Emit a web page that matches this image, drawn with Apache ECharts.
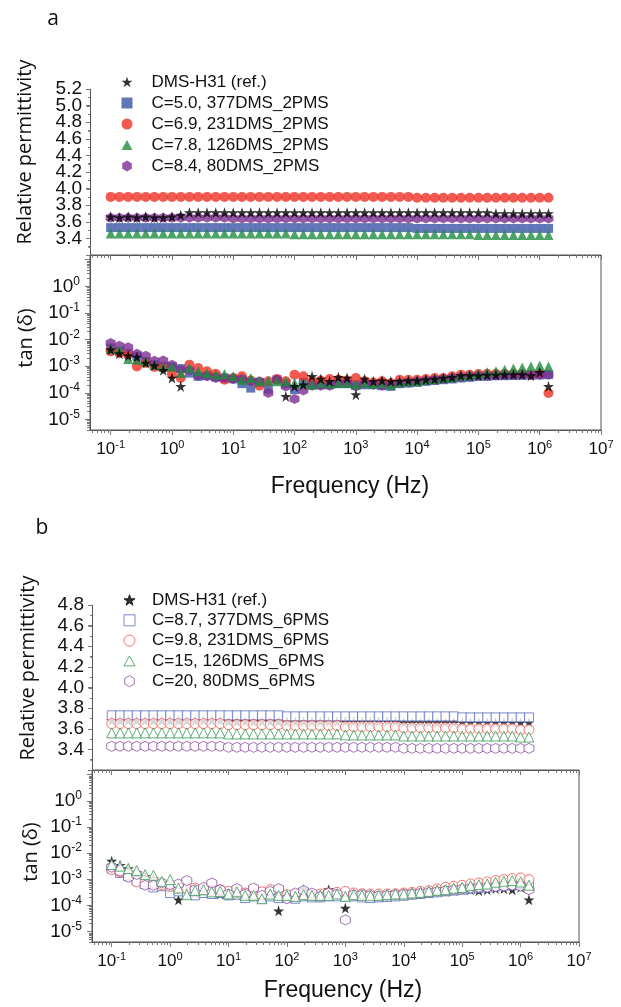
<!DOCTYPE html>
<html><head><meta charset="utf-8">
<script src="https://cdn.jsdelivr.net/npm/echarts@6/dist/echarts.min.js"></script>
<style>html,body{margin:0;padding:0;background:#fff}#c{width:621px;height:1007px;background:#fff}</style>
</head><body><div id="c"></div><script>
// ---------------- data ----------------
const freqHz = [
  0.1, 0.139, 0.193, 0.268, 0.373, 0.518, 0.72,
  1, 1.39, 1.93, 2.68, 3.73, 5.18, 7.2,
  10, 13.9, 19.3, 26.8, 37.3, 51.8, 72,
  100, 139, 193, 268, 373, 518, 720,
  1000, 1390, 1930, 2680, 3730, 5180, 7200,
  10000, 13900, 19300, 26800, 37300, 51800, 72000,
  100000, 139000, 193000, 268000, 373000, 518000, 720000,
  1000000, 1390000
];
const namesA = ['DMS-H31 (ref.)', 'C=5.0, 377DMS_2PMS', 'C=6.9, 231DMS_2PMS', 'C=7.8, 126DMS_2PMS', 'C=8.4, 80DMS_2PMS'];
const namesB = ['DMS-H31 (ref.)', 'C=8.7, 377DMS_6PMS', 'C=9.8, 231DMS_6PMS', 'C=15, 126DMS_6PMS', 'C=20, 80DMS_6PMS'];

const xTickValues = [0.1, 1, 10, 100, 1000, 10000, 100000, 1000000, 10000000];
const tanTickValues = [1e-5, 1e-4, 1e-3, 1e-2, 1e-1, 1, 10];
const tanLabelValues = [1e-5, 1e-4, 1e-3, 1e-2, 1e-1, 1];
const epsTicksA = [3.2, 3.4, 3.6, 3.8, 4.0, 4.2, 4.4, 4.6, 4.8, 5.0, 5.2];
const epsLabelsA = [3.4, 3.6, 3.8, 4.0, 4.2, 4.4, 4.6, 4.8, 5.0, 5.2];
const epsTicksB = [3.2, 3.4, 3.6, 3.8, 4.0, 4.2, 4.4, 4.6, 4.8];
const epsLabelsB = [3.4, 3.6, 3.8, 4.0, 4.2, 4.4, 4.6, 4.8];

// panel a : relative permittivity
const epsRefA = [
  3.66,3.65,3.66,3.65,3.66,3.65,3.65,
  3.66,3.68,3.71,3.71,3.71,3.71,3.71,
  3.71,3.71,3.71,3.71,3.71,3.71,3.71,
  3.71,3.71,3.71,3.71,3.71,3.71,3.71,
  3.71,3.71,3.71,3.71,3.71,3.71,3.71,
  3.71,3.71,3.71,3.71,3.71,3.71,3.71,
  3.71,3.71,3.70,3.70,3.70,3.70,3.70,
  3.70,3.70];
const epsBlueA = [
  3.53,3.53,3.53,3.53,3.53,3.53,3.53,
  3.53,3.53,3.53,3.53,3.53,3.53,3.53,
  3.53,3.53,3.53,3.53,3.53,3.53,3.53,
  3.53,3.53,3.53,3.53,3.53,3.53,3.53,
  3.53,3.53,3.53,3.53,3.53,3.53,3.53,
  3.52,3.52,3.52,3.52,3.52,3.52,3.52,
  3.52,3.52,3.52,3.52,3.52,3.52,3.52,
  3.52,3.52];
const epsRedA = [
  3.90,3.90,3.90,3.90,3.90,3.90,3.90,
  3.90,3.90,3.90,3.90,3.90,3.90,3.90,
  3.90,3.90,3.90,3.90,3.90,3.90,3.90,
  3.90,3.90,3.90,3.90,3.90,3.90,3.90,
  3.90,3.90,3.90,3.90,3.90,3.90,3.90,
  3.89,3.89,3.89,3.89,3.89,3.89,3.89,
  3.89,3.89,3.89,3.89,3.89,3.89,3.89,
  3.89,3.89];
const epsGreenA = [
  3.46,3.46,3.46,3.46,3.46,3.46,3.46,
  3.46,3.46,3.46,3.46,3.46,3.46,3.46,
  3.46,3.46,3.46,3.46,3.46,3.46,3.46,
  3.45,3.45,3.45,3.45,3.45,3.45,3.45,
  3.45,3.45,3.45,3.45,3.45,3.45,3.45,
  3.45,3.45,3.45,3.45,3.45,3.45,3.45,
  3.44,3.44,3.44,3.44,3.44,3.44,3.44,
  3.44,3.44];
const epsPurpleA = [
  3.65,3.65,3.65,3.65,3.65,3.65,3.65,
  3.65,3.65,3.65,3.65,3.65,3.65,3.65,
  3.64,3.64,3.64,3.64,3.64,3.64,3.64,
  3.64,3.64,3.64,3.64,3.64,3.64,3.64,
  3.64,3.64,3.64,3.64,3.64,3.64,3.64,
  3.64,3.64,3.64,3.64,3.64,3.64,3.64,
  3.64,3.64,3.64,3.64,3.64,3.64,3.64,
  3.64,3.64];

// panel a : tan(delta)
const tanRefA = [
  4.17e-3,2.95e-3,2.48e-3,2.21e-3,1.32e-3,1.05e-3,6.95e-4,
  3.6e-4,1.74e-4,null,null,null,null,null,
  null,null,null,null,null,null,7.3e-5,
  1.74e-4,2.0e-4,4.14e-4,3.3e-4,2.7e-4,3.8e-4,3.6e-4,
  8.5e-5,3.3e-4,2.7e-4,2.9e-4,2.7e-4,2.7e-4,2.85e-4,
  2.85e-4,3.1e-4,3.3e-4,3.6e-4,3.8e-4,4.4e-4,4.4e-4,
  4.4e-4,4.65e-4,4.65e-4,4.8e-4,4.8e-4,4.8e-4,4.4e-4,
  5.85e-4,1.74e-4];
const tanBlueA = [
  4.8e-3,3.6e-3,2.95e-3,2.33e-3,1.51e-3,1.14e-3,9.8e-4,
  9.3e-4,8.1e-4,5.5e-4,4.14e-4,4.4e-4,3.9e-4,3.6e-4,
  3.3e-4,2.2e-4,1.5e-4,2.46e-4,1.38e-4,3.1e-4,2.2e-4,
  1.3e-4,2.46e-4,2.0e-4,2.0e-4,2.0e-4,2.2e-4,2.2e-4,
  2.0e-4,2.0e-4,2.0e-4,1.85e-4,1.74e-4,2.2e-4,2.32e-4,
  2.46e-4,2.7e-4,2.9e-4,3.1e-4,3.3e-4,3.6e-4,3.8e-4,
  4.14e-4,4.14e-4,4.4e-4,4.4e-4,4.5e-4,4.5e-4,4.65e-4,
  4.65e-4,4.8e-4];
const tanRedA = [
  3.6e-3,3.13e-3,2.7e-3,9.8e-4,1.32e-3,9.3e-4,8.55e-4,
  5.2e-4,3.6e-4,1.14e-3,8.55e-4,6.4e-4,5.2e-4,3.1e-4,
  3.6e-4,4.14e-4,2.9e-4,1.85e-4,2.7e-4,3.3e-4,2.7e-4,
  4.8e-4,4.14e-4,2.7e-4,2.9e-4,3.3e-4,3.1e-4,2.9e-4,
  3.6e-4,2.7e-4,2.46e-4,2.7e-4,2.32e-4,3.1e-4,3.1e-4,
  3.1e-4,3.3e-4,3.6e-4,3.6e-4,4.14e-4,4.8e-4,4.8e-4,
  5.07e-4,5.2e-4,5.2e-4,5.2e-4,5.2e-4,5.2e-4,4.8e-4,
  5.2e-4,9.8e-5];
const tanGreenA = [
  4.4e-3,4.17e-3,1.86e-3,1.75e-3,1.51e-3,1.14e-3,9.3e-4,
  9.8e-4,5.5e-4,8.55e-4,6.4e-4,5.5e-4,4.8e-4,5.07e-4,
  4.14e-4,3.1e-4,3.6e-4,2.7e-4,2.9e-4,2.7e-4,2.7e-4,
  2.32e-4,2.32e-4,2.0e-4,2.32e-4,2.2e-4,2.32e-4,2.32e-4,
  2.0e-4,2.32e-4,2.13e-4,2.32e-4,2.0e-4,2.46e-4,2.7e-4,
  2.7e-4,3.1e-4,3.3e-4,3.6e-4,3.8e-4,4.4e-4,4.8e-4,
  5.2e-4,5.85e-4,6.4e-4,7.4e-4,8.1e-4,9.0e-4,9.8e-4,
  1.05e-3,9.8e-4];
const tanPurpleA = [
  7.43e-3,5.9e-3,5.1e-3,2.95e-3,2.48e-3,1.61e-3,1.65e-3,
  1.14e-3,7.4e-4,6.95e-4,4.4e-4,4.14e-4,3.6e-4,3.6e-4,
  3.3e-4,3.3e-4,2.7e-4,2.7e-4,9.8e-5,3.1e-4,1.74e-4,
  5.8e-5,1.23e-4,1.85e-4,1.85e-4,1.85e-4,2.32e-4,2.32e-4,
  1.74e-4,2.2e-4,2.0e-4,1.85e-4,2.0e-4,2.32e-4,2.46e-4,
  2.7e-4,2.85e-4,3.1e-4,3.3e-4,3.6e-4,3.8e-4,4.14e-4,
  4.4e-4,4.4e-4,4.5e-4,4.65e-4,4.65e-4,4.8e-4,4.8e-4,
  4.8e-4,4.8e-4];

// panel b : relative permittivity
const epsRefB = [
  3.68,3.68,3.68,3.68,3.68,3.68,3.68,
  3.68,3.68,3.68,3.68,3.68,3.68,3.68,
  3.67,3.67,3.67,3.67,3.67,3.67,3.67,
  3.67,3.67,3.67,3.67,3.67,3.67,3.67,
  3.67,3.67,3.67,3.67,3.67,3.67,3.67,
  3.66,3.66,3.66,3.66,3.66,3.66,3.66,
  3.66,3.66,3.66,3.66,3.66,3.66,3.66,
  3.66,3.66];
const epsBlueB = [
  3.73,3.73,3.73,3.73,3.73,3.73,3.73,
  3.73,3.73,3.73,3.73,3.73,3.73,3.73,
  3.73,3.73,3.73,3.73,3.73,3.73,3.73,
  3.72,3.72,3.72,3.72,3.72,3.72,3.72,
  3.72,3.72,3.72,3.72,3.72,3.72,3.72,
  3.72,3.72,3.72,3.72,3.72,3.72,3.72,
  3.71,3.71,3.71,3.71,3.71,3.71,3.71,
  3.71,3.71];
const epsRedB = [
  3.65,3.65,3.65,3.65,3.65,3.65,3.65,
  3.65,3.65,3.65,3.65,3.65,3.65,3.65,
  3.64,3.64,3.64,3.64,3.64,3.64,3.64,
  3.63,3.63,3.63,3.63,3.63,3.63,3.63,
  3.62,3.62,3.62,3.62,3.62,3.62,3.62,
  3.61,3.61,3.61,3.61,3.61,3.61,3.61,
  3.60,3.60,3.60,3.60,3.60,3.60,3.60,
  3.59,3.59];
const epsGreenB = [
  3.56,3.56,3.56,3.56,3.56,3.56,3.56,
  3.56,3.56,3.56,3.56,3.56,3.56,3.56,
  3.55,3.55,3.55,3.55,3.55,3.55,3.55,
  3.55,3.55,3.55,3.55,3.55,3.55,3.55,
  3.54,3.54,3.54,3.54,3.54,3.54,3.54,
  3.53,3.53,3.53,3.53,3.53,3.53,3.53,
  3.53,3.53,3.53,3.53,3.53,3.53,3.53,
  3.52,3.52];
const epsPurpleB = [
  3.43,3.43,3.43,3.43,3.43,3.43,3.43,
  3.43,3.43,3.43,3.43,3.43,3.43,3.43,
  3.42,3.42,3.42,3.42,3.42,3.42,3.42,
  3.42,3.42,3.42,3.42,3.42,3.42,3.42,
  3.42,3.42,3.42,3.42,3.42,3.42,3.42,
  3.41,3.41,3.41,3.41,3.41,3.41,3.41,
  3.41,3.41,3.41,3.41,3.41,3.41,3.41,
  3.41,3.41];

// panel b : tan(delta)
const tanRefB = [
  4.92e-3,3.45e-3,2.57e-3,1.75e-3,1.3e-3,1.06e-3,7.2e-4,
  4.6e-4,1.65e-4,3.45e-4,2.98e-4,3.3e-4,2.98e-4,2.73e-4,
  2.57e-4,2.57e-4,2.43e-4,2.43e-4,2.43e-4,2.57e-4,6.2e-5,
  2.22e-4,2.03e-4,4.0e-4,2.57e-4,2.57e-4,4.0e-4,2.73e-4,
  7.9e-5,2.73e-4,2.57e-4,2.43e-4,2.57e-4,2.57e-4,2.73e-4,
  2.8e-4,2.98e-4,3.16e-4,3.3e-4,3.45e-4,3.45e-4,3.7e-4,
  4.0e-4,4.0e-4,3.7e-4,4.0e-4,4.4e-4,4.4e-4,4.0e-4,
  4.9e-4,1.65e-4];
const tanBlueB = [
  2.57e-3,1.75e-3,1.3e-3,8.9e-4,6.6e-4,4.9e-4,5.4e-4,
  2.98e-4,3.45e-4,2.73e-4,2.43e-4,2.98e-4,2.73e-4,2.98e-4,
  2.43e-4,2.57e-4,1.91e-4,2.22e-4,1.8e-4,2.22e-4,1.91e-4,
  2.03e-4,1.8e-4,2.22e-4,2.03e-4,2.03e-4,2.22e-4,2.22e-4,
  2.22e-4,2.22e-4,2.03e-4,1.91e-4,2.03e-4,2.1e-4,2.22e-4,
  2.35e-4,2.57e-4,2.73e-4,2.98e-4,3.16e-4,3.45e-4,3.7e-4,
  4.0e-4,4.4e-4,4.6e-4,4.9e-4,5.4e-4,5.9e-4,5.9e-4,
  6.6e-4,5.9e-4];
const tanRedB = [
  2.35e-3,1.91e-3,1.51e-3,7.9e-4,7.9e-4,7.2e-4,6.2e-4,
  5.4e-4,4.6e-4,4.4e-4,4.6e-4,4.0e-4,3.7e-4,4.0e-4,
  3.45e-4,3.3e-4,2.98e-4,2.73e-4,3.3e-4,4.0e-4,3.7e-4,
  2.57e-4,2.57e-4,2.73e-4,2.57e-4,2.73e-4,2.98e-4,3.16e-4,
  3.45e-4,2.98e-4,2.8e-4,2.73e-4,2.73e-4,2.73e-4,2.8e-4,
  2.98e-4,3.16e-4,3.45e-4,3.7e-4,4.25e-4,4.9e-4,5.4e-4,
  5.9e-4,6.6e-4,7.2e-4,7.9e-4,8.9e-4,9.7e-4,1.06e-3,
  1.12e-3,9.7e-4];
const tanGreenB = [
  3.66e-3,3.16e-3,2.57e-3,2.15e-3,1.51e-3,1.42e-3,8.4e-4,
  9.7e-4,4.6e-4,2.57e-4,3.7e-4,4.0e-4,3.3e-4,3.45e-4,
  2.73e-4,3.3e-4,2.43e-4,2.43e-4,1.8e-4,2.73e-4,2.43e-4,
  2.43e-4,2.22e-4,2.57e-4,2.43e-4,2.43e-4,2.43e-4,2.73e-4,
  2.22e-4,2.57e-4,2.43e-4,2.35e-4,2.43e-4,2.57e-4,2.73e-4,
  2.73e-4,2.98e-4,3.16e-4,3.45e-4,3.8e-4,4.0e-4,4.6e-4,
  4.9e-4,5.7e-4,6.2e-4,6.6e-4,7.7e-4,8.4e-4,8.9e-4,
  7.9e-4,5.9e-4];
const tanPurpleB = [
  2.9e-3,2.03e-3,1.19e-3,1.51e-3,5.9e-4,5.9e-4,7.2e-4,
  6.2e-4,6.6e-4,8.9e-4,4.0e-4,4.9e-4,7.2e-4,4.0e-4,
  2.73e-4,4.4e-4,2.73e-4,4.6e-4,2.43e-4,3.45e-4,4.4e-4,
  1.8e-4,2.98e-4,3.7e-4,2.98e-4,2.22e-4,2.98e-4,2.73e-4,
  2.8e-5,2.57e-4,2.57e-4,2.43e-4,2.35e-4,2.43e-4,2.57e-4,
  2.73e-4,2.8e-4,2.98e-4,3.16e-4,3.45e-4,3.7e-4,4.0e-4,
  4.25e-4,4.6e-4,4.9e-4,4.9e-4,5.2e-4,5.4e-4,5.9e-4,
  5.4e-4,4.0e-4];

// ---------------- presentation ----------------
const SANS = 'Liberation Sans, Arial, sans-serif';
const HUM = 'Open Sans, Noto Sans, sans-serif';
const LINE = '#555';
const TICK = '#777';
const STAR = 'path://M50,0L61.2,34.5L97.6,34.5L68.2,55.9L79.4,90.5L50,69.1L20.6,90.5L31.8,55.9L2.4,34.5L38.8,34.5Z';
const HEX = 'path://M50,0L93.3,25L93.3,75L50,100L6.7,75L6.7,25Z';
const SQUARE = 'path://M0,0L100,0L100,100L0,100Z';
const TRI = 'path://M50,0L100,90L0,90Z';
const X_MIN = 0.046, X_MAX = 1e7, T_MIN = 4e-6, T_MAX = 15;

// plot-area layout
const GRID_A_TOP = { left: 90, top: 89, width: 511, height: 166 };
const GRID_A_LOW = { left: 90, top: 255, width: 511, height: 175 };
const GRID_B_TOP = { left: 92, top: 605, width: 487, height: 165 };
const GRID_B_LOW = { left: 92, top: 770, width: 487, height: 172 };

function minorOf(majors, lo, hi) {
  const out = [];
  for (const d of majors) for (let m = 2; m <= 9; m++) { const v = +(m * d).toPrecision(6); if (v >= lo && v <= hi) out.push(v); }
  return out;
}
const xMinor = minorOf([0.01, 0.1, 1, 10, 100, 1000, 10000, 100000, 1000000], X_MIN, X_MAX);
const tanMinor = minorOf([1e-6, 1e-5, 1e-4, 1e-3, 1e-2, 1e-1, 1], T_MIN, T_MAX);
const midsOf = t => t.slice(1).map((v, i) => +((v + t[i]) / 2).toFixed(2));

const pow10 = v => '{b|10}{s|' + Math.round(Math.log10(v)) + '}';
function richFor(base, sup) {
  return {
    b: { fontSize: base, fontFamily: SANS, color: '#111', lineHeight: base + 3 },
    s: { fontSize: sup, fontFamily: SANS, color: '#111', lineHeight: sup, verticalAlign: 'top' }
  };
}
const lbl = { showMinLabel: true, showMaxLabel: true, hideOverlap: false };
const epsLabelStyle = { margin: 8, fontSize: 19, fontFamily: SANS, color: '#111', formatter: v => v.toFixed(1) };

function xAxesFor(g) {
  const common = { type: 'log', min: X_MIN, max: X_MAX, splitLine: { show: false } };
  return [
    Object.assign({}, common, { gridIndex: g, show: false }),
    Object.assign({}, common, { gridIndex: g + 1, position: 'bottom',
      axisLine: { show: true, onZero: false, lineStyle: { color: LINE, width: 1 } },
      axisTick: { show: true, customValues: xTickValues, length: 5, lineStyle: { color: TICK } },
      axisLabel: Object.assign({ show: true, customValues: xTickValues, formatter: pow10, margin: 9, rich: richFor(17, 11) }, lbl) }),
    Object.assign({}, common, { gridIndex: g + 1, position: 'bottom',
      axisLine: { show: false, onZero: false },
      axisTick: { show: true, customValues: xMinor, length: 3, lineStyle: { color: TICK } },
      axisLabel: { show: false } }),
    Object.assign({}, common, { gridIndex: g + 1, position: 'top',
      axisLine: { show: true, onZero: false, lineStyle: { color: LINE, width: 1 } },
      axisTick: { show: true, inside: true, customValues: xTickValues, length: 5, lineStyle: { color: TICK } },
      axisLabel: { show: false } }),
    Object.assign({}, common, { gridIndex: g + 1, position: 'top',
      axisLine: { show: false, onZero: false },
      axisTick: { show: true, inside: true, customValues: xMinor, length: 3, lineStyle: { color: TICK } },
      axisLabel: { show: false } })
  ];
}
function yAxesFor(g, ticks, labels) {
  const epsMax = ticks[ticks.length - 1];
  const labelsOdd = labels.filter((v, i) => i % 2 === 0);
  const labelsEven = labels.filter((v, i) => i % 2 === 1);
  return [
    { type: 'value', gridIndex: g, min: 3.2, max: epsMax, position: 'left',
      axisLine: { show: true, onZero: false, lineStyle: { color: LINE, width: 1 } },
      axisTick: { show: true, customValues: ticks, length: 4, lineStyle: { color: TICK } },
      splitLine: { show: false },
      axisLabel: Object.assign({ customValues: labelsOdd }, epsLabelStyle, lbl) },
    { type: 'value', gridIndex: g, min: 3.2, max: epsMax, position: 'left',
      axisLine: { show: false, onZero: false },
      axisTick: { show: true, customValues: midsOf(ticks), length: 2, lineStyle: { color: TICK } },
      splitLine: { show: false },
      axisLabel: Object.assign({ customValues: labelsEven }, epsLabelStyle, lbl) },
    { type: 'log', gridIndex: g + 1, min: T_MIN, max: T_MAX, position: 'left',
      axisLine: { show: true, onZero: false, lineStyle: { color: LINE, width: 1 } },
      axisTick: { show: true, customValues: tanTickValues, length: 5, lineStyle: { color: TICK } },
      splitLine: { show: false },
      axisLabel: Object.assign({ show: true, customValues: tanLabelValues, formatter: pow10, margin: 10, rich: richFor(19, 12) }, lbl) },
    { type: 'log', gridIndex: g + 1, min: T_MIN, max: T_MAX, position: 'left',
      axisLine: { show: false, onZero: false },
      axisTick: { show: true, customValues: tanMinor, length: 3, lineStyle: { color: TICK } },
      splitLine: { show: false }, axisLabel: { show: false } }
  ];
}

const pts = (arr) => freqHz.map((f, i) => [f, arr[i]]).filter(d => d[1] != null);

function sc(name, arr, xi, yi, symbol, size, itemStyle) {
  return { type: 'scatter', name, data: pts(arr), xAxisIndex: xi, yAxisIndex: yi,
    symbol, symbolSize: size, itemStyle, silent: true, emphasis: { disabled: true } };
}

const colA = { blue: '#3a55a5', red: '#ee3026', green: '#1f8c40', purple: '#7d2f91' };
const colB = { blue: '#5a6cc2', red: '#f0504a', green: '#3b9a57', purple: '#8b4d9f' };
const filled = c => ({ color: c, borderWidth: 0 });
const hollow = c => ({ color: '#ffffff', borderColor: c, borderWidth: 1 });
const starStyle = { color: '#000', borderColor: '#000', borderWidth: 0 };

const series = [];
[[0, 0], [1, 2]].forEach(([xi, yi], k) => {
  const d = k === 0 ? [epsBlueA, epsRedA, epsPurpleA, epsGreenA, epsRefA] : [tanBlueA, tanRedA, tanPurpleA, tanGreenA, tanRefA];
  series.push(sc(namesA[1], d[0], xi, yi, SQUARE, 9, filled(colA.blue)));
  series.push(sc(namesA[2], d[1], xi, yi, 'circle', 10, filled(colA.red)));
  series.push(sc(namesA[4], d[2], xi, yi, HEX, 10, filled(colA.purple)));
  series.push(sc(namesA[3], d[3], xi, yi, TRI, 10, filled(colA.green)));
  series.push(sc(namesA[0], d[4], xi, yi, STAR, 11, starStyle));
});
[[5, 4], [6, 6]].forEach(([xi, yi], k) => {
  const d = k === 0 ? [epsRefB, epsBlueB, epsRedB, epsPurpleB, epsGreenB] : [tanRefB, tanBlueB, tanRedB, tanPurpleB, tanGreenB];
  series.push(sc(namesB[0] + ' ', d[0], xi, yi, STAR, 11, starStyle));
  series.push(sc(namesB[1], d[1], xi, yi, SQUARE, 9, hollow(colB.blue)));
  series.push(sc(namesB[2], d[2], xi, yi, 'circle', 10, hollow(colB.red)));
  series.push(sc(namesB[4], d[3], xi, yi, HEX, 10, hollow(colB.purple)));
  series.push(sc(namesB[3], d[4], xi, yi, TRI, 10, hollow(colB.green)));
});

const legendBase = { orient: 'vertical', padding: 0, itemWidth: 11, itemHeight: 11, selectedMode: false };

function title(text, x, y, size, rot, fam) {
  return { type: 'text', x, y, rotation: rot || 0, silent: true,
    style: { text, fontSize: size, fontFamily: fam || HUM, fill: '#111',
      align: 'center', verticalAlign: 'middle', textAlign: 'center', textVerticalAlign: 'middle' } };
}
const titles = [
  title('a', 53, 19, 21),
  title('b', 42, 528, 21),
  title('Relative permittivity', 25, 152, 20, Math.PI / 2),
  title('tan (\u03b4)', 26, 338, 20, Math.PI / 2),
  title('Frequency (Hz)', 350, 487, 23, 0, SANS),
  title('Relative permittivity', 28, 668, 20, Math.PI / 2),
  title('tan (\u03b4)', 31, 852, 20, Math.PI / 2),
  title('Frequency (Hz)', 343, 991, 23, 0, SANS)
];

// left frame line + ticks of the two permittivity plots (y from the axis scale when available)
function leftFrame(grid, yi, ticks) {
  const out = [];
  const lo = ticks[0], hi = ticks[ticks.length - 1];
  const yOf = v => {
    let p = NaN;
    try { p = chart.convertToPixel({ yAxisIndex: yi }, v); } catch (e) { p = NaN; }
    if (!Number.isFinite(p)) p = grid.top + grid.height * (hi - v) / (hi - lo);
    return p;
  };
  const x = grid.left + 0.5;
  out.push({ type: 'line', silent: true, z: 100, zlevel: 1,
    shape: { x1: x, y1: grid.top, x2: x, y2: grid.top + grid.height }, style: { stroke: LINE, lineWidth: 1 } });
  ticks.forEach(v => { const y = Math.round(yOf(v)) + 0.5;
    out.push({ type: 'line', silent: true, z: 100, zlevel: 1, shape: { x1: x - 4, y1: y, x2: x, y2: y }, style: { stroke: TICK, lineWidth: 1 } }); });
  midsOf(ticks).forEach(v => { const y = Math.round(yOf(v)) + 0.5;
    out.push({ type: 'line', silent: true, z: 100, zlevel: 1, shape: { x1: x - 2, y1: y, x2: x, y2: y }, style: { stroke: TICK, lineWidth: 1 } }); });
  return out;
}

const option = {
  animation: false,
  grid: [
    GRID_A_TOP,
    Object.assign({ show: true, borderColor: LINE, borderWidth: 1, backgroundColor: 'transparent' }, GRID_A_LOW),
    GRID_B_TOP,
    Object.assign({ show: true, borderColor: LINE, borderWidth: 1, backgroundColor: 'transparent' }, GRID_B_LOW)
  ],
  xAxis: [].concat(xAxesFor(0), xAxesFor(2)),
  yAxis: [].concat(yAxesFor(0, epsTicksA, epsLabelsA), yAxesFor(2, epsTicksB, epsLabelsB)),
  legend: [
    Object.assign({}, legendBase, { left: 121.5, top: 73.5, itemGap: 4, data: namesA,
      itemStyle: { borderWidth: 0 },
      textStyle: { fontSize: 17, fontFamily: SANS, color: '#111', lineHeight: 17, padding: [0, 0, 0, 14] } }),
    Object.assign({}, legendBase, { left: 123.5, top: 591.5, itemGap: 3.3,
      data: [namesB[0] + ' ', namesB[1], namesB[2], namesB[3], namesB[4]], itemStyle: { borderWidth: 1 },
      textStyle: { fontSize: 17, fontFamily: SANS, color: '#111', lineHeight: 17, padding: [0, 0, 0, 12] },
      formatter: n => n.trim() })
  ],
  graphic: titles,
  series
};
const chart = echarts.init(document.getElementById('c'), null, { renderer: 'canvas' });
chart.setOption(option);
let frame = [];
try { frame = leftFrame(GRID_A_TOP, 0, epsTicksA).concat(leftFrame(GRID_B_TOP, 4, epsTicksB)); } catch (e) { frame = []; }
chart.setOption({ graphic: { elements: titles.concat(frame) } });
</script></body></html>
